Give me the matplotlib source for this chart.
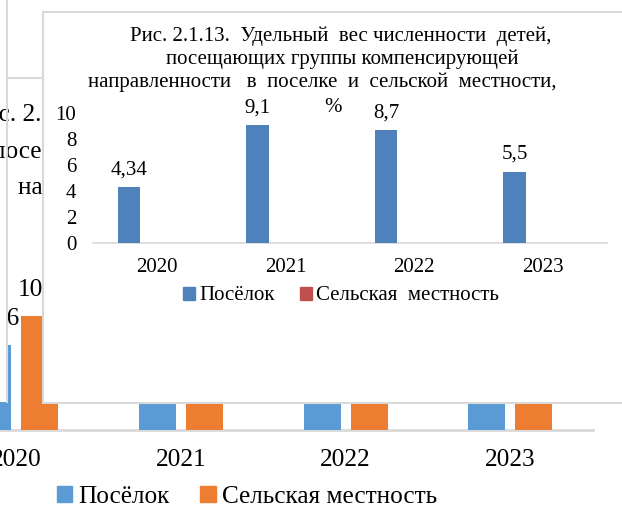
import matplotlib
matplotlib.use('Agg')
import matplotlib.pyplot as plt
from matplotlib.patches import Rectangle, Patch
from matplotlib.lines import Line2D
import numpy as np

plt.rcParams['font.family'] = ['Liberation Serif', 'DejaVu Serif']

# Data
years = ['2020', '2021', '2022', '2023']
# front chart (Рис. 2.1.13)
front_posyolok = [4.34, 9.1, 8.7, 5.5]
front_selo = [0, 0, 0, 0]
front_labels = ['4,34', '9,1', '8,7', '5,5']
# chart underneath (mostly hidden)
back_posyolok = [7.56, 8.2, 7.9, 6.1]
back_selo = [10.1, 9.5, 8.8, 7.4]
back_labels_p = ['7,56', '8,2', '7,9', '6,1']
back_labels_s = ['10,1', '9,5', '8,8', '7,4']

W, H = 622, 532
GRAY = '#D9D9D9'
FS_F = 15      # front chart font
FS_B = 18.2    # chart underneath font


def fx(x):
    return x / W


def fy(y):
    return 1 - y / H


fig = plt.figure(figsize=(W / 100, H / 100), dpi=100)
fig.patch.set_facecolor('white')

# ---- chart underneath ----
ax_b = fig.add_axes([fx(-66), fy(430), (592.6 + 66) / W, (430 - 78) / H], zorder=0)
ax_b.set_facecolor('none')
x = np.arange(len(years))
bw = 0.225
ax_b.bar(x - 0.1425, back_posyolok, bw, color='#5B9BD5', zorder=3)
ax_b.bar(x + 0.1425, back_selo, bw, color='#ED7D31', zorder=3)
for i in range(len(years)):
    ax_b.annotate(back_labels_p[i], (x[i] - 0.1425, back_posyolok[i]), xytext=(5, 26),
                  textcoords='offset pixels', ha='center', va='center', fontsize=FS_B)
    ax_b.annotate(back_labels_s[i], (x[i] + 0.1425, back_selo[i]), xytext=(0, 27),
                  textcoords='offset pixels', ha='center', va='center', fontsize=FS_B)
ax_b.set_xlim(-0.5, 3.5)
ax_b.set_ylim(0, 352 / 11.27)
for s in ['top', 'left', 'right']:
    ax_b.spines[s].set_visible(False)
ax_b.spines['bottom'].set_color(GRAY)
ax_b.spines['bottom'].set_linewidth(2)
ax_b.set_yticks([])
ax_b.set_xticks(x)
ax_b.set_xticklabels(years, fontsize=FS_B)
ax_b.tick_params(axis='x', length=0, pad=14)
ax_b.legend(handles=[Patch(color='#5B9BD5', label='Посёлок'),
                     Patch(color='#ED7D31', label='Сельская местность')],
            loc='center', bbox_to_anchor=(fx(247), fy(497)), bbox_transform=fig.transFigure,
            ncol=2, frameon=False, fontsize=FS_B, handlelength=0.62, handleheight=0.62,
            handletextpad=0.25, columnspacing=1.2, borderpad=0, borderaxespad=0)

# title of the chart underneath (covered by the front chart)
back_title = ['Рис. 2.1.12. Удельный вес численности детей,',
              'посещающих группы компенсирующей',
              'направленности в поселке и сельской местности, %']
for txt, xs, ys in zip(back_title, [-29, -8, 18], [115, 152, 188]):
    fig.text(fx(xs), fy(ys), txt, ha='left', va='center', fontsize=FS_B, zorder=0.8)

# white mask and frame lines at the left
fig.patches.append(Rectangle((0, fy(402)), fx(7), 1 - fy(402), transform=fig.transFigure,
                             facecolor='white', edgecolor='none', zorder=0.5))
fig.add_artist(Line2D([fx(7), fx(7)], [fy(0), fy(402)], color=GRAY, lw=1.5, zorder=0.9))
fig.add_artist(Line2D([fx(7), fx(43)], [fy(78), fy(78)], color=GRAY, lw=1.5, zorder=0.9))

# ---- front chart panel ----
fig.patches.append(Rectangle((fx(43), fy(403)), fx(640) - fx(43), fy(12) - fy(403),
                             transform=fig.transFigure, facecolor='white',
                             edgecolor=GRAY, lw=1.5, zorder=1))

ax_f = fig.add_axes([fx(93), fy(243), (607 - 93) / W, 130 / H], zorder=2)
ax_f.set_facecolor('none')
fbw = 0.176
ax_f.bar(x - 0.219, front_posyolok, fbw, color='#4F81BD', zorder=3)
ax_f.bar(x + 0.219, front_selo, fbw, color='#C0504D', zorder=3)
for i in range(len(years)):
    ax_f.annotate(front_labels[i], (x[i] - 0.219, front_posyolok[i]), xytext=(0, 17),
                  textcoords='offset pixels', ha='center', va='center', fontsize=FS_F)
ax_f.set_xlim(-0.5, 3.5)
ax_f.set_ylim(0, 10)
for s in ['top', 'left', 'right']:
    ax_f.spines[s].set_visible(False)
ax_f.spines['bottom'].set_color(GRAY)
ax_f.spines['bottom'].set_linewidth(1.2)
ax_f.set_yticks(range(0, 11, 2))
ax_f.set_yticklabels([str(v) for v in range(0, 11, 2)], fontsize=FS_F)
ax_f.set_xticks(x)
ax_f.set_xticklabels(years, fontsize=FS_F)
ax_f.tick_params(axis='both', length=0)
ax_f.tick_params(axis='x', pad=11)
ax_f.tick_params(axis='y', pad=12)
ax_f.legend(handles=[Patch(color='#4F81BD', label='Посёлок'),
                     Patch(color='#C0504D', label='Сельская  местность')],
            loc='center', bbox_to_anchor=(fx(341), fy(296)), bbox_transform=fig.transFigure,
            ncol=2, frameon=False, fontsize=FS_F, handlelength=0.58, handleheight=0.58,
            handletextpad=0.2, columnspacing=1.2, borderpad=0, borderaxespad=0)

front_title = ['Рис. 2.1.13.  Удельный  вес численности  детей,',
               'посещающих группы компенсирующей',
               'направленности   в  поселке  и  сельской  местности,',
               '%']
for txt, xc, yc in zip(front_title, [341, 342, 322, 333], [36, 59, 82, 107]):
    fig.text(fx(xc), fy(yc), txt, ha='center', va='center', fontsize=FS_F, zorder=3)

fig.savefig('out.png', dpi=100, facecolor='white')
